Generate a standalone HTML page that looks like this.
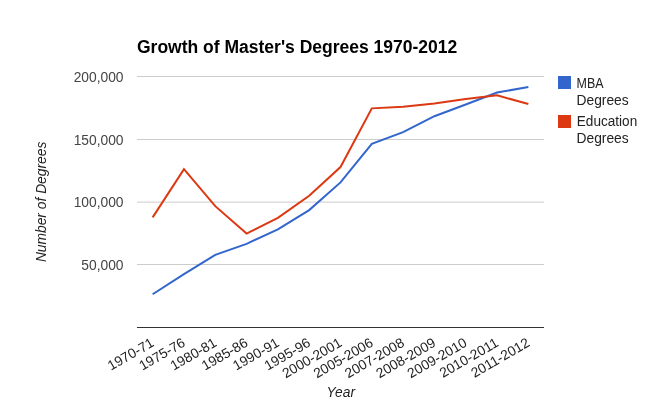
<!DOCTYPE html>
<html><head><meta charset="utf-8"><style>
html,body{margin:0;padding:0;background:#fff;}
svg{display:block;will-change:transform;font-family:"Liberation Sans",sans-serif;font-size:13.8px;}
</style></head><body>
<svg width="660" height="419" viewBox="0 0 660 419">
<rect x="0" y="0" width="660" height="419" fill="#ffffff"/>
<text x="137" y="52.8" font-size="17.5" font-weight="bold" fill="#000000">Growth of Master's Degrees 1970-2012</text>
<rect x="137" y="76" width="407" height="1" fill="#cccccc"/>
<rect x="137" y="139" width="407" height="1" fill="#cccccc"/>
<rect x="137" y="201.6" width="407" height="1" fill="#cccccc"/>
<rect x="137" y="264" width="407" height="1" fill="#cccccc"/>
<rect x="137" y="327" width="407" height="1" fill="#333333"/>
<text x="123.5" y="81.8" text-anchor="end" fill="#444444">200,000</text>
<text x="123.5" y="144.6" text-anchor="end" fill="#444444">150,000</text>
<text x="123.5" y="207.3" text-anchor="end" fill="#444444">100,000</text>
<text x="123.5" y="270.1" text-anchor="end" fill="#444444">50,000</text>

<text x="46" y="201.9" text-anchor="middle" font-style="italic" fill="#222222" transform="rotate(-90 46 201.9)">Number of Degrees</text>
<text x="340.8" y="397" text-anchor="middle" font-style="italic" fill="#222222">Year</text>
<text x="154.95" y="345.5" text-anchor="end" fill="#222222" transform="rotate(-30 154.95 345.5)">1970-71</text>
<text x="186.26" y="345.5" text-anchor="end" fill="#222222" transform="rotate(-30 186.26 345.5)">1975-76</text>
<text x="217.57" y="345.5" text-anchor="end" fill="#222222" transform="rotate(-30 217.57 345.5)">1980-81</text>
<text x="248.88" y="345.5" text-anchor="end" fill="#222222" transform="rotate(-30 248.88 345.5)">1985-86</text>
<text x="280.18" y="345.5" text-anchor="end" fill="#222222" transform="rotate(-30 280.18 345.5)">1990-91</text>
<text x="311.49" y="345.5" text-anchor="end" fill="#222222" transform="rotate(-30 311.49 345.5)">1995-96</text>
<text x="342.80" y="345.5" text-anchor="end" fill="#222222" transform="rotate(-30 342.80 345.5)">2000-2001</text>
<text x="374.11" y="345.5" text-anchor="end" fill="#222222" transform="rotate(-30 374.11 345.5)">2005-2006</text>
<text x="405.42" y="345.5" text-anchor="end" fill="#222222" transform="rotate(-30 405.42 345.5)">2007-2008</text>
<text x="436.72" y="345.5" text-anchor="end" fill="#222222" transform="rotate(-30 436.72 345.5)">2008-2009</text>
<text x="468.03" y="345.5" text-anchor="end" fill="#222222" transform="rotate(-30 468.03 345.5)">2009-2010</text>
<text x="499.34" y="345.5" text-anchor="end" fill="#222222" transform="rotate(-30 499.34 345.5)">2010-2011</text>
<text x="530.65" y="345.5" text-anchor="end" fill="#222222" transform="rotate(-30 530.65 345.5)">2011-2012</text>

<path d="M152.65,294.26L183.96,274.05L215.27,254.85L246.58,243.82L277.88,229.29L309.19,210.09L340.50,182.42L371.81,143.76L403.12,132.18L434.42,116.19L465.73,104.51L497.04,92.55L528.35,87.08" stroke="#3366cc" stroke-width="2" fill="none"/>
<path d="M152.65,217.37L183.96,169.12L215.27,206.13L246.58,233.61L277.88,217.87L309.19,195.81L340.50,167.07L371.81,108.35L403.12,106.77L434.42,103.40L465.73,98.92L497.04,95.31L528.35,104.03" stroke="#dc3912" stroke-width="2" fill="none"/>
<rect x="558" y="76" width="13" height="13" fill="#3366cc"/>
<text x="576.5" y="87.6" fill="#222222" textLength="27" lengthAdjust="spacingAndGlyphs">MBA</text>
<text x="576.5" y="104.9" fill="#222222">Degrees</text>
<rect x="558" y="115" width="13" height="13" fill="#dc3912"/>
<text x="576.8" y="126.1" fill="#222222" textLength="60.4" lengthAdjust="spacingAndGlyphs">Education</text>
<text x="576.5" y="143.1" fill="#222222">Degrees</text>
</svg>
</body></html>
